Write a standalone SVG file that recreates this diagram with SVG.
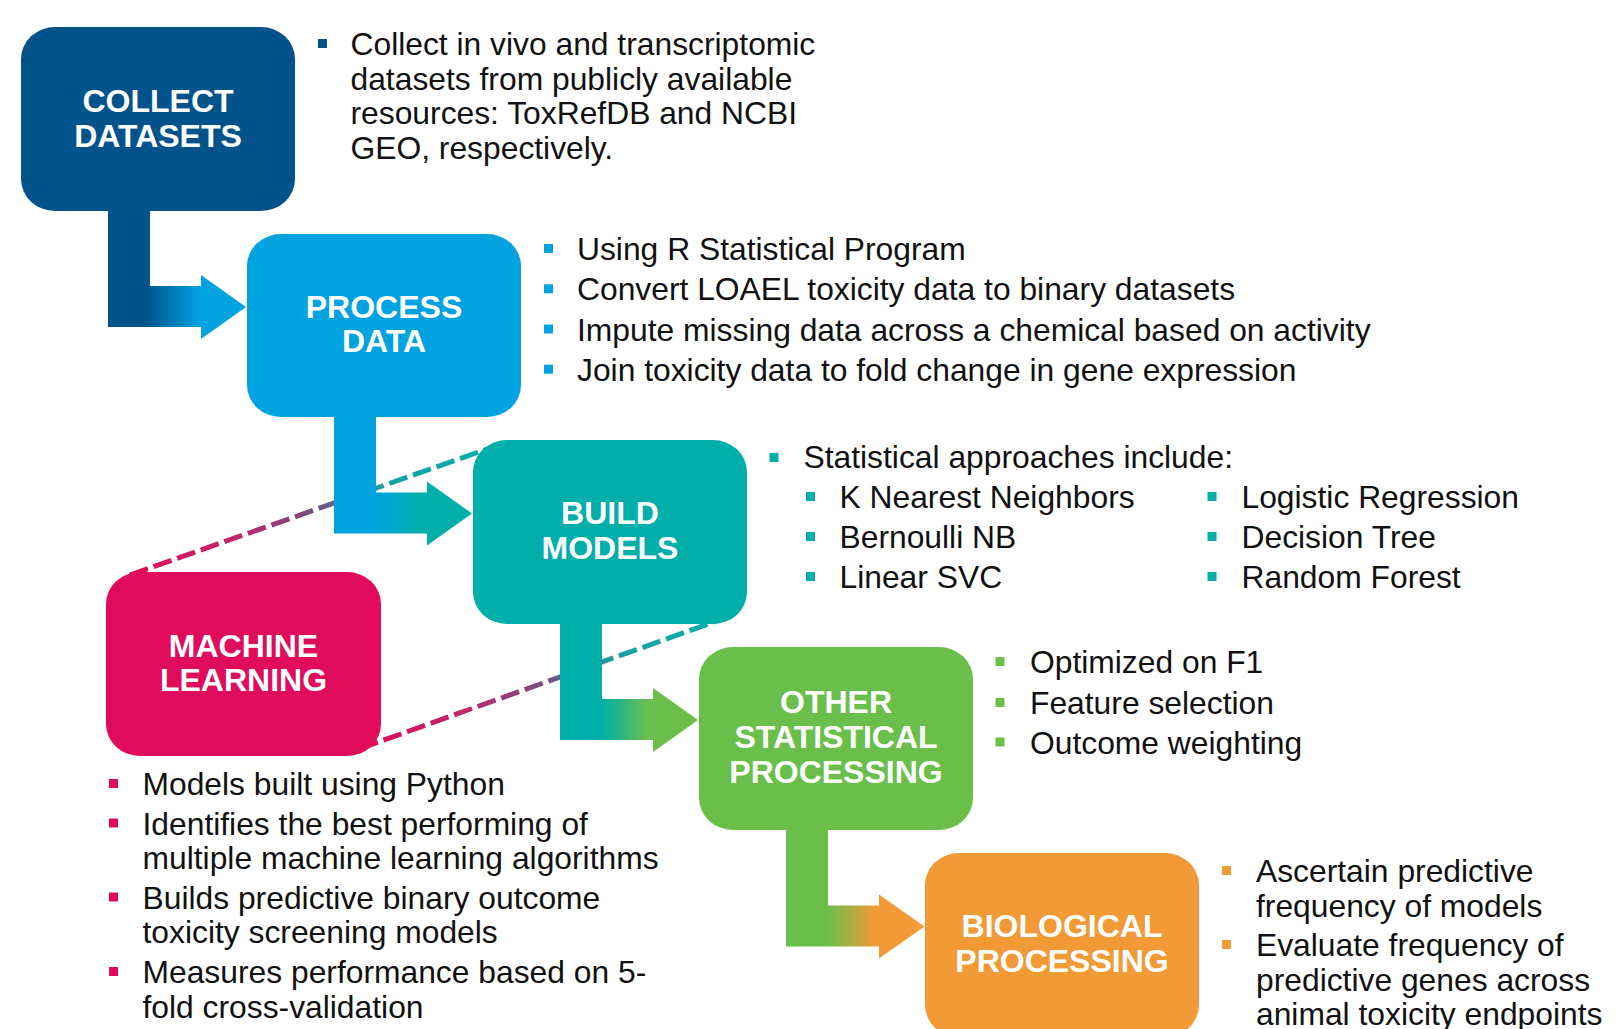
<svg xmlns="http://www.w3.org/2000/svg" width="1616" height="1029" viewBox="0 0 1616 1029">
  <defs>
    <style>
      .lbl { font-family: "Liberation Sans", Arial, sans-serif; font-weight: bold; font-size: 32px; fill: #ffffff; text-anchor: middle; }
      .txt { font-family: "Liberation Sans", Arial, sans-serif; font-size: 31.8px; fill: #111111; }
      .dash { fill: none; stroke-width: 5; stroke-dasharray: 19 6; }
    </style>
    <!-- elbow arrow gradients: source colour on the bar, target colour on the head -->
    <linearGradient id="gArr1" x1="0" y1="0" x2="1" y2="0">
      <stop offset="0.28" stop-color="#02538C"/>
      <stop offset="0.66" stop-color="#00A3E0"/>
    </linearGradient>
    <linearGradient id="gArr2" x1="0" y1="0" x2="1" y2="0">
      <stop offset="0.30" stop-color="#00A3E0"/>
      <stop offset="0.64" stop-color="#00AFA9"/>
    </linearGradient>
    <linearGradient id="gArr3" x1="0" y1="0" x2="1" y2="0">
      <stop offset="0.30" stop-color="#00AFA9"/>
      <stop offset="0.64" stop-color="#6ABF4B"/>
    </linearGradient>
    <linearGradient id="gArr4" x1="0" y1="0" x2="1" y2="0">
      <stop offset="0.30" stop-color="#6ABF4B"/>
      <stop offset="0.64" stop-color="#F29A35"/>
    </linearGradient>
    <!-- dashed link gradient: machine learning (magenta) to build models (teal) -->
    <linearGradient id="gDash" x1="0" y1="0" x2="1" y2="0">
      <stop offset="0" stop-color="#E00B5A"/>
      <stop offset="0.30" stop-color="#C0286A"/>
      <stop offset="0.48" stop-color="#80487F"/>
      <stop offset="0.60" stop-color="#566A8E"/>
      <stop offset="0.70" stop-color="#1A9FA5"/>
      <stop offset="1" stop-color="#00AFA9"/>
    </linearGradient>
  </defs>

  <rect width="1616" height="1029" fill="#ffffff"/>

  <!-- connectors -->
  <g id="connectors">
    <line class="dash" x1="130" y1="575" x2="490" y2="448" stroke="url(#gDash)"/>
    <line class="dash" x1="360" y1="748.6" x2="725" y2="618" stroke="url(#gDash)"/>
    <path d="M108,205 V327 H201 V339 L246,307 L201,275 V286 H150 V205 Z" fill="url(#gArr1)"/>
    <path d="M334,411 V533.5 H427 V545.5 L472,513.5 L427,481.5 V492.5 H376 V411 Z" fill="url(#gArr2)"/>
    <path d="M560,618 V740 H653 V752 L698,720 L653,688 V699 H602 V618 Z" fill="url(#gArr3)"/>
    <path d="M786,824 V946.5 H879 V958.5 L924.5,926.5 L879,894.5 V905.5 H828 V824 Z" fill="url(#gArr4)"/>
  </g>

  <!-- nodes -->
  <g id="collect-datasets">
    <rect x="21" y="27" width="274" height="184" rx="34" ry="32" fill="#02538C"/>
    <text class="lbl" x="158" y="112">COLLECT</text>
    <text class="lbl" x="158" y="147">DATASETS</text>
  </g>
  <g id="process-data">
    <rect x="247" y="234" width="274" height="183" rx="34" ry="32" fill="#00A3E0"/>
    <text class="lbl" x="384" y="318">PROCESS</text>
    <text class="lbl" x="384" y="352">DATA</text>
  </g>
  <g id="build-models">
    <rect x="473" y="440" width="274" height="184" rx="34" ry="32" fill="#00AFA9"/>
    <text class="lbl" x="610" y="524">BUILD</text>
    <text class="lbl" x="610" y="559">MODELS</text>
  </g>
  <g id="machine-learning">
    <rect x="106" y="572" width="275" height="184" rx="34" ry="32" fill="#E00B5A"/>
    <text class="lbl" x="243.5" y="657">MACHINE</text>
    <text class="lbl" x="243.5" y="691">LEARNING</text>
  </g>
  <g id="other-statistical-processing">
    <rect x="699" y="647" width="274" height="183" rx="34" ry="32" fill="#6ABF4B"/>
    <text class="lbl" x="836" y="713">OTHER</text>
    <text class="lbl" x="836" y="748">STATISTICAL</text>
    <text class="lbl" x="836" y="783">PROCESSING</text>
  </g>
  <g id="biological-processing">
    <rect x="925" y="853" width="274" height="184" rx="34" ry="32" fill="#F29A35"/>
    <text class="lbl" x="1062" y="937">BIOLOGICAL</text>
    <text class="lbl" x="1062" y="972">PROCESSING</text>
  </g>

  <!-- bullet notes -->
  <g id="notes-collect">
    <rect x="318" y="39" width="9" height="9" fill="#02538C"/>
    <text class="txt" x="350.5" y="55">Collect in vivo and transcriptomic</text>
    <text class="txt" x="350.5" y="89.5">datasets from publicly available</text>
    <text class="txt" x="350.5" y="124">resources: ToxRefDB and NCBI</text>
    <text class="txt" x="350.5" y="158.5">GEO, respectively.</text>
  </g>
  <g id="notes-process">
    <g fill="#00A3E0">
      <rect x="544" y="244" width="9" height="9"/>
      <rect x="544" y="284.3" width="9" height="9"/>
      <rect x="544" y="324.5" width="9" height="9"/>
      <rect x="544" y="364.7" width="9" height="9"/>
    </g>
    <text class="txt" x="577" y="260">Using R Statistical Program</text>
    <text class="txt" x="577" y="300.3">Convert LOAEL toxicity data to binary datasets</text>
    <text class="txt" x="577" y="340.5">Impute missing data across a chemical based on activity</text>
    <text class="txt" x="577" y="380.7">Join toxicity data to fold change in gene expression</text>
  </g>
  <g id="notes-build">
    <g fill="#00AFA9">
      <rect x="769.5" y="453" width="9" height="9"/>
      <rect x="806" y="492" width="9" height="9"/>
      <rect x="806" y="532" width="9" height="9"/>
      <rect x="806" y="572" width="9" height="9"/>
      <rect x="1207.5" y="492" width="9" height="9"/>
      <rect x="1207.5" y="532" width="9" height="9"/>
      <rect x="1207.5" y="572" width="9" height="9"/>
    </g>
    <text class="txt" x="803.5" y="468">Statistical approaches include:</text>
    <text class="txt" x="839.5" y="508">K Nearest Neighbors</text>
    <text class="txt" x="839.5" y="548">Bernoulli NB</text>
    <text class="txt" x="839.5" y="588">Linear SVC</text>
    <text class="txt" x="1241.5" y="508">Logistic Regression</text>
    <text class="txt" x="1241.5" y="548">Decision Tree</text>
    <text class="txt" x="1241.5" y="588">Random Forest</text>
  </g>
  <g id="notes-other">
    <g fill="#6ABF4B">
      <rect x="995.5" y="657" width="9" height="9"/>
      <rect x="995.5" y="698" width="9" height="9"/>
      <rect x="995.5" y="737.5" width="9" height="9"/>
    </g>
    <text class="txt" x="1030" y="673">Optimized on F1</text>
    <text class="txt" x="1030" y="714">Feature selection</text>
    <text class="txt" x="1030" y="753.5">Outcome weighting</text>
  </g>
  <g id="notes-machine">
    <g fill="#E00B5A">
      <rect x="109" y="779" width="9" height="9"/>
      <rect x="109" y="818.5" width="9" height="9"/>
      <rect x="109" y="892.5" width="9" height="9"/>
      <rect x="109" y="967" width="9" height="9"/>
    </g>
    <text class="txt" x="142.5" y="795">Models built using Python</text>
    <text class="txt" x="142.5" y="834.5">Identifies the best performing of</text>
    <text class="txt" x="142.5" y="869">multiple machine learning algorithms</text>
    <text class="txt" x="142.5" y="908.5">Builds predictive binary outcome</text>
    <text class="txt" x="142.5" y="943">toxicity screening models</text>
    <text class="txt" x="142.5" y="983">Measures performance based on 5-</text>
    <text class="txt" x="142.5" y="1018">fold cross-validation</text>
  </g>
  <g id="notes-biological">
    <g fill="#F29A35">
      <rect x="1222" y="866" width="9" height="9"/>
      <rect x="1222" y="940" width="9" height="9"/>
    </g>
    <text class="txt" x="1256" y="882">Ascertain predictive</text>
    <text class="txt" x="1256" y="916.5">frequency of models</text>
    <text class="txt" x="1256" y="956">Evaluate frequency of</text>
    <text class="txt" x="1256" y="990.5">predictive genes across</text>
    <text class="txt" x="1256" y="1025">animal toxicity endpoints</text>
  </g>
</svg>
